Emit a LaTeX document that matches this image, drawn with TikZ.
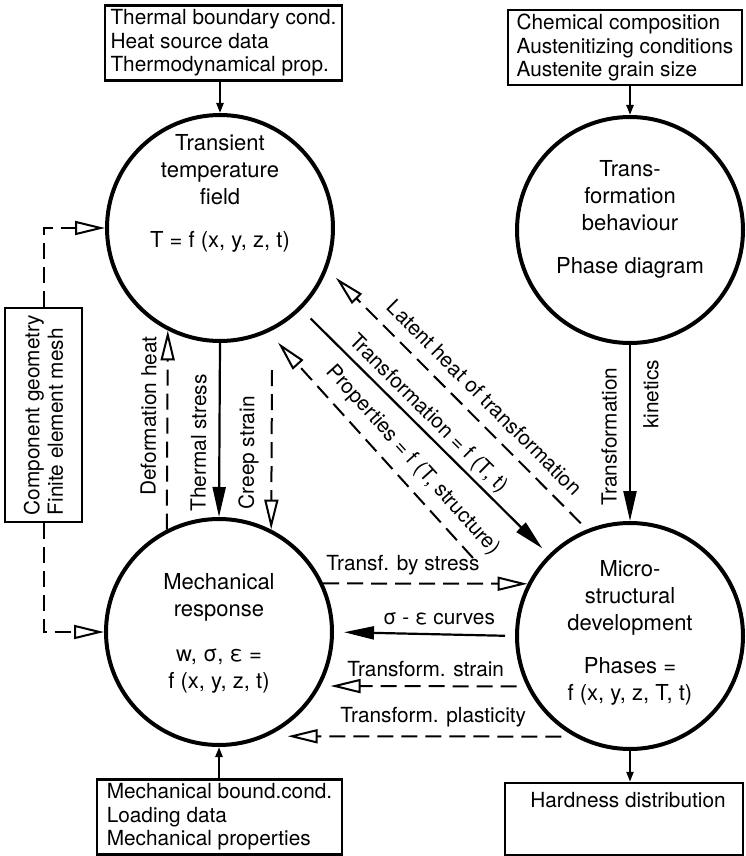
\documentclass[tikz,border=0pt]{standalone}
\usepackage{fontspec}
\setmainfont{TeX Gyre Heros}
\usetikzlibrary{arrows.meta}

\begin{document}
\begin{tikzpicture}[x=0.5pt, y=-0.5pt,
        ring/.style={draw, circle, line width=2pt, minimum size=113pt, inner sep=0pt},
        ctxt/.style={align=center, inner sep=0pt, font=\fontsize{11}{13.5}\selectfont},
        box/.style={draw, line width=1.2pt, align=left, inner sep=2pt, font=\fontsize{10.4}{11.8}\selectfont},
        lbl/.style={inner sep=1pt, font=\fontsize{10.4}{12}\selectfont},
        fto/.style={line width=1.1pt, -{Triangle[length=15pt, width=6.5pt]}},
        ffrom/.style={line width=1.1pt, {Triangle[length=15pt, width=6.5pt]}-},
        oto/.style={line width=1pt, dash pattern=on 8pt off 4pt, -{Triangle[open, length=15pt, width=7pt]}},
        sto/.style={line width=1.1pt, -{Triangle[length=5pt, width=3.5pt]}}]
    \useasboundingbox (0,0) rectangle (745,856);

    % circles
    \node[ring] (TT) at (220,228) {};
    \node[ring] (TB) at (630,230) {};
    \node[ring] (MR) at (219,632) {};
    \node[ring] (MD) at (630,636) {};

    \node[ctxt] (TTt) at (220,193) {Transient\\temperature\\field\\[8pt]T = f (x, y, z, t)};
    \node[ctxt] (TBt) at (630,219) {Trans-\\formation\\behaviour\\[8pt]Phase diagram};
    \node[ctxt] (MRt) at (219,633) {Mechanical\\response\\[9pt]w, σ, ε =\\f (x, y, z, t)};
    \node[ctxt] (MDt) at (630,633) {Micro-\\structural\\development\\[8pt]Phases =\\f (x, y, z, T, t)};

    % data boxes
    \node[box, minimum width=118.5pt, minimum height=37pt] (thermal) at (223.5,43) {Thermal boundary cond.\\Heat source data\\Thermodynamical prop.};
    \node[box, minimum width=117pt, minimum height=37.5pt] (chem) at (625,47.5) {Chemical composition\\Austenitizing conditions\\Austenite grain size};
    \node[box, rotate=90, minimum width=107pt, minimum height=38.5pt] (geo) at (43.5,415) {Component geometry\\Finite element mesh};
    \node[box, minimum width=122.5pt, minimum height=37pt] (mech) at (219.5,817) {Mechanical bound.cond.\\Loading data\\Mechanical properties};
    \node[box, minimum width=119pt, minimum height=36pt] (hard) at (624,819) {};
    \node[lbl] (hardt) at (628,800) {Hardness distribution};

    % inputs and outputs
    \draw[sto] (TT.north |- thermal.south) -- (TT.north);
    \draw[sto] (TB.north |- chem.south) -- (TB.north);
    \draw[sto] (MR.south |- mech.north) -- (MR.south);
    \draw[sto] (MD.south) -- (MD.south |- hard.north);
    \draw[oto] (geo.east) |- (TT.west);
    \draw[oto] (geo.west) |- (MR.west);

    % temperature <-> mechanics
    \draw[oto] (MR.117) -- node[lbl, sloped, above=4pt, pos=0.57] (defl) {Deformation heat} (TT.-117);
    \draw[fto] (TT.south) -- node[lbl, sloped, above=5pt, pos=0.575] (tsl) {Thermal stress} (MR.north);
    \coordinate (creep) at (272,370);
    \draw[oto] (creep) -- node[lbl, sloped, above=5pt, pos=0.52] (crl) {Creep strain} (MR.63);

    % temperature <-> microstructure
    \draw[oto, shorten <=4.3pt, shorten >=6pt] (MD.112) -- node[lbl, sloped, above=5pt, pos=0.45] (latl) {Latent heat of transformation} (TT.-21);
    \draw[fto, shorten <=6.5pt, shorten >=4.5pt] (TT.-45) -- node[lbl, sloped, above=1pt, pos=0.47] (trl) {Transformation = f (T, t)} (MD.135);
    \coordinate (prop) at (473,558);
    \draw[oto, shorten >=7pt] (prop) -- node[lbl, sloped, above=4pt, pos=0.37] (prl) {Properties = f (T, structure)} (TT.-65);
    \draw[ffrom] (MD.north) -- node[lbl, sloped, above=5pt, pos=0.48] (kinl) {Transformation} node[lbl, sloped, below=5pt, pos=0.72] (kinr) {kinetics} (TB.south);

    % mechanics <-> microstructure
    \draw[oto] (MR.25) -- node[lbl, above=3pt, pos=0.39] (tbs) {Transf. by stress} (MD.153);
    \draw[fto, shorten <=5pt, shorten >=5pt] (MD.west) -- node[lbl, above=3pt, pos=0.42] (sel) {σ - ε curves} (MR.east);
    \draw[oto, shorten <=5pt, shorten >=5pt] (MD.206) -- node[lbl, above=3pt, pos=0.49] (tsn) {Transform. strain} (MR.-28);
    \draw[oto, shorten <=6.5pt, shorten >=10pt] (MD.-119) -- node[lbl, above=3pt, pos=0.46] (tpl) {Transform. plasticity} (MR.-65.6);
\end{tikzpicture}
\end{document}
